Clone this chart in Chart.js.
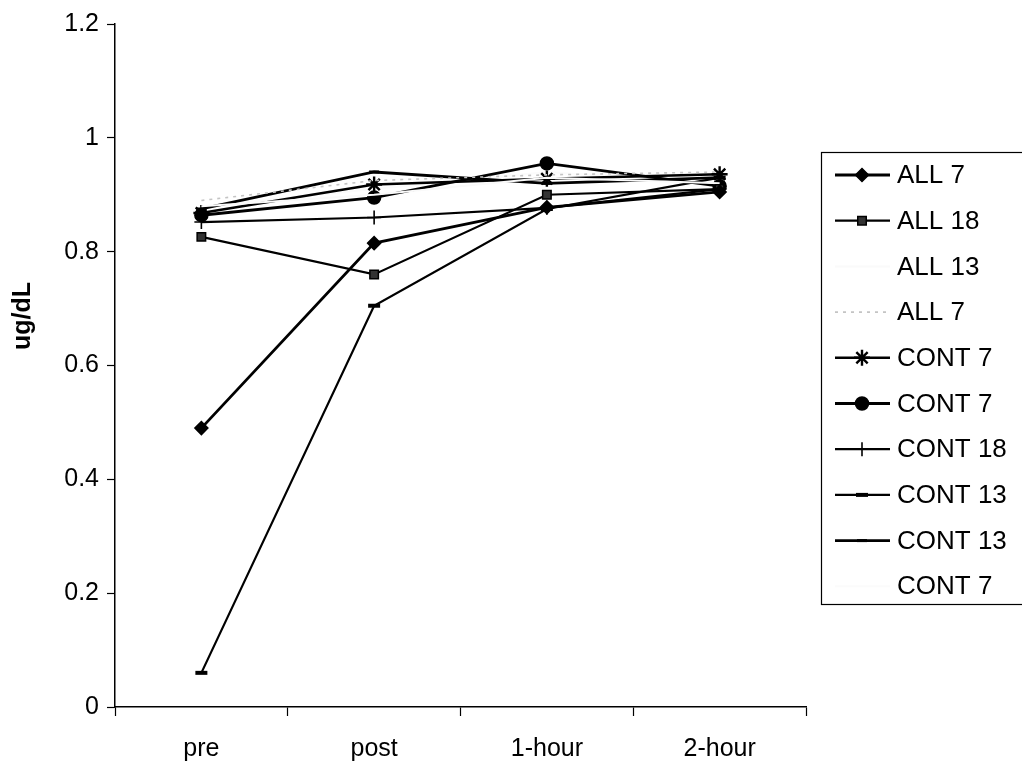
<!DOCTYPE html>
<html>
<head>
<meta charset="utf-8">
<script src="https://cdn.jsdelivr.net/npm/chart.js@4/dist/chart.umd.min.js"></script>
<style>
  html, body { margin: 0; padding: 0; background: #fff; }
  #wrap { width: 1022px; height: 770px; }
</style>
</head>
<body>
<div id="wrap"><canvas id="c" width="1022" height="770"></canvas></div>
<script>
const categories = ["pre", "post", "1-hour", "2-hour"];
const yTickLabels = ["0", "0.2", "0.4", "0.6", "0.8", "1", "1.2"];
const yTitle = "ug/dL";

const all7a   = [0.49, 0.815, 0.878, 0.905];
const all18   = [0.826, 0.76, 0.90, 0.91];
const all13   = [0.88, 0.90, 0.93, 0.92];
const all7b   = [0.89, 0.925, 0.935, 0.94];
const cont7a  = [0.868, 0.918, 0.928, 0.936];
const cont7b  = [0.864, 0.895, 0.955, 0.915];
const cont18  = [0.852, 0.86, 0.877, 0.91];
const cont13a = [0.06, 0.705, 0.875, 0.93];
const cont13b = [0.875, 0.94, 0.92, 0.93];
const cont7c  = [0.88, 0.91, 0.94, 0.92];

const seriesNames = ["ALL 7", "ALL 18", "ALL 13", "ALL 7", "CONT 7", "CONT 7", "CONT 18", "CONT 13", "CONT 13", "CONT 7"];

function ds(label, data, o) {
  return Object.assign({
    label: label, data: data,
    borderColor: "#000", backgroundColor: "#000",
    borderWidth: 2.4, pointRadius: 0, pointStyle: "circle",
    pointBorderColor: "#000", pointBackgroundColor: "#000",
    pointBorderWidth: 1.5, tension: 0, fill: false
  }, o || {});
}

const datasets = [
  ds(seriesNames[0], all7a, { pointStyle: "rectRot", pointRadius: 6.5, borderWidth: 2.8 }),
  ds(seriesNames[1], all18, { pointStyle: "rect", pointRadius: 6, pointBackgroundColor: "#333", borderWidth: 2.2 }),
  ds(seriesNames[2], all13, { borderColor: "#fafafa", pointBorderColor: "#fafafa", borderWidth: 2 }),
  ds(seriesNames[3], all7b, { borderColor: "#c4c4c4", borderDash: [3, 5], borderWidth: 1.6 }),
  ds(seriesNames[4], cont7a, { pointStyle: "star", pointRadius: 8, pointBorderWidth: 2.4, borderWidth: 2.4 }),
  ds(seriesNames[5], cont7b, { pointStyle: "circle", pointRadius: 6.5, borderWidth: 2.8 }),
  ds(seriesNames[6], cont18, { pointStyle: "cross", pointRadius: 7, pointBorderWidth: 1.6, borderWidth: 2.2 }),
  ds(seriesNames[7], cont13a, { pointStyle: "line", pointRadius: 6, pointBorderWidth: 4, borderWidth: 2.2 }),
  ds(seriesNames[8], cont13b, { pointStyle: "line", pointRadius: 5, pointBorderWidth: 3, borderWidth: 2.8 }),
  ds(seriesNames[9], cont7c, { borderColor: "#fbfbfb", pointBorderColor: "#fbfbfb", borderWidth: 2 })
];

const FONT = "'Liberation Sans', Arial, sans-serif";

const customLegend = {
  id: "customLegend",
  afterDraw(chart) {
    const ctx = chart.ctx;
    const left = 821, top = 152, bottom = 604, right = 1030;
    ctx.save();
    ctx.strokeStyle = "#000";
    ctx.lineWidth = 1.2;
    ctx.strokeRect(left + 0.5, top + 0.5, right - left, bottom - top);
    const y0 = 175, dy = 45.7;
    ctx.font = "26px " + FONT;
    ctx.textBaseline = "middle";
    ctx.textAlign = "left";
    chart.data.datasets.forEach((d, i) => {
      const y = y0 + i * dy;
      ctx.save();
      ctx.strokeStyle = d.borderColor;
      ctx.lineWidth = d.borderWidth;
      ctx.setLineDash(d.borderDash || []);
      ctx.beginPath();
      ctx.moveTo(835, y);
      ctx.lineTo(890, y);
      ctx.stroke();
      ctx.restore();
      if (d.pointRadius > 0) {
        ctx.save();
        ctx.strokeStyle = d.pointBorderColor;
        ctx.fillStyle = d.pointBackgroundColor;
        ctx.lineWidth = d.pointBorderWidth;
        Chart.helpers.drawPoint(ctx, { pointStyle: d.pointStyle, rotation: 0, radius: d.pointRadius, borderWidth: d.pointBorderWidth }, 862, y);
        ctx.restore();
      }
      ctx.fillStyle = "#000";
      ctx.fillText(d.label, 897, y + 1);
    });
    ctx.restore();
  }
};

const yTitlePlugin = {
  id: "yTitlePlugin",
  afterDraw(chart) {
    const ctx = chart.ctx;
    ctx.save();
    ctx.translate(23, 316);
    ctx.rotate(-Math.PI / 2);
    ctx.font = "bold 25px " + FONT;
    ctx.fillStyle = "#000";
    ctx.textAlign = "center";
    ctx.textBaseline = "middle";
    ctx.fillText(yTitle, 0, 0);
    ctx.restore();
  }
};

new Chart(document.getElementById("c"), {
  type: "line",
  data: { labels: categories, datasets: datasets },
  options: {
    responsive: false,
    animation: false,
    devicePixelRatio: 1,
    layout: { padding: { top: 24, right: 216, bottom: 0, left: 0 } },
    plugins: { legend: { display: false }, tooltip: { enabled: false } },
    scales: {
      x: {
        type: "category",
        offset: true,
        grid: { display: true, drawOnChartArea: false, offset: true, tickLength: 9, tickColor: "#000", tickWidth: 1.2 },
        border: { display: true, color: "#000", width: 1.5 },
        ticks: { color: "#000", font: { family: FONT, size: 25 }, padding: 18, maxRotation: 0 },
        afterFit(s) { s.height = 63; }
      },
      y: {
        min: 0, max: 1.2,
        grid: { display: true, drawOnChartArea: false, tickLength: 8, tickColor: "#000", tickWidth: 1.2 },
        border: { display: true, color: "#000", width: 1.5 },
        ticks: {
          stepSize: 0.2, color: "#000", font: { family: FONT, size: 25 }, padding: 8,
          callback: (v, i) => yTickLabels[i]
        },
        afterFit(s) { s.width = 115; }
      }
    }
  },
  plugins: [customLegend, yTitlePlugin]
});
</script>
</body>
</html>
